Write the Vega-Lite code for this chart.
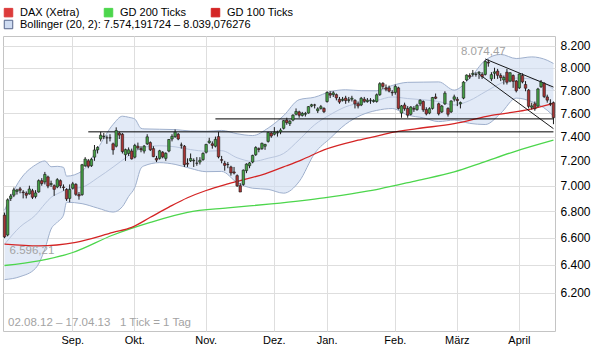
{
  "$schema": "https://vega.github.io/schema/vega-lite/v6.json",
  "width": 552,
  "height": 295,
  "autosize": {"type": "none"},
  "padding": {"left": 3, "top": 36, "right": 38, "bottom": 21},
  "background": "white",
  "config": {
    "view": {"stroke": "#c4c4c4", "strokeWidth": 1},
    "font": "Liberation Sans",
    "axis": {"labelFont": "Liberation Sans", "labelColor": "#111111", "domain": false, "ticks": false, "gridColor": "#dedede", "gridWidth": 1, "title": null},
    "legend": {"labelLimit": 400, "labelFont": "Liberation Sans", "labelColor": "#000000", "labelFontSize": 11, "padding": 0, "title": null}
  },
  "datasets": {
    "candles": [
      {"d":"2012-08-02","o":6770,"h":6790,"l":6596,"c":6606},
      {"d":"2012-08-03","o":6620,"h":6900,"l":6610,"c":6889},
      {"d":"2012-08-06","o":6900,"h":6935,"l":6880,"c":6919},
      {"d":"2012-08-07","o":6925,"h":6985,"l":6910,"c":6967},
      {"d":"2012-08-08","o":6955,"h":6975,"l":6930,"c":6966},
      {"d":"2012-08-09","o":6975,"h":6990,"l":6940,"c":6964},
      {"d":"2012-08-10","o":6950,"h":6965,"l":6900,"c":6945},
      {"d":"2012-08-13","o":6940,"h":6955,"l":6900,"c":6925},
      {"d":"2012-08-14","o":6935,"h":7000,"l":6930,"c":6974},
      {"d":"2012-08-15","o":6960,"h":6975,"l":6895,"c":6909},
      {"d":"2012-08-16","o":6915,"h":6965,"l":6900,"c":6943},
      {"d":"2012-08-17","o":6950,"h":7050,"l":6945,"c":7040},
      {"d":"2012-08-20","o":7040,"h":7060,"l":7000,"c":7017},
      {"d":"2012-08-21","o":7030,"h":7110,"l":7010,"c":7090},
      {"d":"2012-08-22","o":7070,"h":7080,"l":6980,"c":6997},
      {"d":"2012-08-23","o":7010,"h":7040,"l":6990,"c":7017},
      {"d":"2012-08-24","o":7000,"h":7010,"l":6920,"c":6971},
      {"d":"2012-08-27","o":6990,"h":7060,"l":6980,"c":7048},
      {"d":"2012-08-28","o":7040,"h":7050,"l":6980,"c":7000},
      {"d":"2012-08-29","o":6990,"h":7010,"l":6960,"c":6985},
      {"d":"2012-08-30","o":6970,"h":6980,"l":6880,"c":6896},
      {"d":"2012-08-31","o":6900,"h":7010,"l":6870,"c":6970},
      {"d":"2012-09-03","o":6980,"h":7030,"l":6970,"c":7015},
      {"d":"2012-09-04","o":7010,"h":7020,"l":6920,"c":6932},
      {"d":"2012-09-05","o":6930,"h":6950,"l":6890,"c":6919},
      {"d":"2012-09-06","o":6930,"h":7175,"l":6920,"c":7168},
      {"d":"2012-09-07","o":7160,"h":7230,"l":7150,"c":7214},
      {"d":"2012-09-10","o":7200,"h":7215,"l":7140,"c":7156},
      {"d":"2012-09-11","o":7160,"h":7225,"l":7150,"c":7212},
      {"d":"2012-09-12","o":7230,"h":7330,"l":7200,"c":7289},
      {"d":"2012-09-13","o":7290,"h":7320,"l":7260,"c":7310},
      {"d":"2012-09-14","o":7380,"h":7440,"l":7360,"c":7412},
      {"d":"2012-09-17","o":7400,"h":7430,"l":7380,"c":7404},
      {"d":"2012-09-18","o":7390,"h":7410,"l":7340,"c":7390},
      {"d":"2012-09-19","o":7390,"h":7420,"l":7360,"c":7389},
      {"d":"2012-09-20","o":7340,"h":7350,"l":7250,"c":7290},
      {"d":"2012-09-21","o":7320,"h":7478,"l":7310,"c":7451},
      {"d":"2012-09-24","o":7430,"h":7440,"l":7380,"c":7413},
      {"d":"2012-09-25","o":7420,"h":7430,"l":7260,"c":7276},
      {"d":"2012-09-26","o":7250,"h":7300,"l":7200,"c":7292},
      {"d":"2012-09-27","o":7260,"h":7310,"l":7240,"c":7290},
      {"d":"2012-09-28","o":7280,"h":7300,"l":7210,"c":7216},
      {"d":"2012-10-01","o":7230,"h":7340,"l":7220,"c":7326},
      {"d":"2012-10-02","o":7320,"h":7350,"l":7290,"c":7306},
      {"d":"2012-10-03","o":7300,"h":7320,"l":7270,"c":7291},
      {"d":"2012-10-04","o":7280,"h":7330,"l":7260,"c":7321},
      {"d":"2012-10-05","o":7340,"h":7420,"l":7330,"c":7398},
      {"d":"2012-10-08","o":7350,"h":7360,"l":7280,"c":7291},
      {"d":"2012-10-09","o":7300,"h":7320,"l":7230,"c":7234},
      {"d":"2012-10-10","o":7220,"h":7240,"l":7190,"c":7206},
      {"d":"2012-10-11","o":7220,"h":7290,"l":7210,"c":7282},
      {"d":"2012-10-12","o":7270,"h":7280,"l":7220,"c":7232},
      {"d":"2012-10-15","o":7220,"h":7270,"l":7200,"c":7261},
      {"d":"2012-10-16","o":7280,"h":7380,"l":7270,"c":7376},
      {"d":"2012-10-17","o":7380,"h":7420,"l":7360,"c":7402},
      {"d":"2012-10-18","o":7400,"h":7460,"l":7390,"c":7437},
      {"d":"2012-10-19","o":7420,"h":7430,"l":7370,"c":7380},
      {"d":"2012-10-22","o":7330,"h":7350,"l":7300,"c":7329},
      {"d":"2012-10-23","o":7320,"h":7330,"l":7150,"c":7168},
      {"d":"2012-10-24","o":7180,"h":7220,"l":7150,"c":7173},
      {"d":"2012-10-25","o":7200,"h":7260,"l":7190,"c":7219},
      {"d":"2012-10-26","o":7200,"h":7220,"l":7150,"c":7203},
      {"d":"2012-10-29","o":7180,"h":7230,"l":7160,"c":7181},
      {"d":"2012-10-30","o":7190,"h":7230,"l":7170,"c":7204},
      {"d":"2012-10-31","o":7210,"h":7270,"l":7200,"c":7260},
      {"d":"2012-11-01","o":7270,"h":7340,"l":7260,"c":7335},
      {"d":"2012-11-02","o":7350,"h":7390,"l":7340,"c":7363},
      {"d":"2012-11-05","o":7340,"h":7360,"l":7300,"c":7327},
      {"d":"2012-11-06","o":7320,"h":7400,"l":7310,"c":7377},
      {"d":"2012-11-07","o":7400,"h":7440,"l":7220,"c":7232},
      {"d":"2012-11-08","o":7210,"h":7240,"l":7180,"c":7204},
      {"d":"2012-11-09","o":7180,"h":7200,"l":7120,"c":7163},
      {"d":"2012-11-12","o":7170,"h":7190,"l":7140,"c":7169},
      {"d":"2012-11-13","o":7150,"h":7160,"l":7080,"c":7102},
      {"d":"2012-11-14","o":7110,"h":7150,"l":7090,"c":7101},
      {"d":"2012-11-15","o":7080,"h":7090,"l":6990,"c":6999},
      {"d":"2012-11-16","o":7000,"h":7020,"l":6950,"c":6950},
      {"d":"2012-11-19","o":7010,"h":7130,"l":7000,"c":7124},
      {"d":"2012-11-20","o":7120,"h":7180,"l":7100,"c":7173},
      {"d":"2012-11-21","o":7160,"h":7190,"l":7140,"c":7183},
      {"d":"2012-11-22","o":7190,"h":7250,"l":7180,"c":7244},
      {"d":"2012-11-23","o":7250,"h":7320,"l":7240,"c":7309},
      {"d":"2012-11-26","o":7300,"h":7310,"l":7270,"c":7293},
      {"d":"2012-11-27","o":7300,"h":7350,"l":7290,"c":7344},
      {"d":"2012-11-28","o":7320,"h":7340,"l":7290,"c":7335},
      {"d":"2012-11-29","o":7360,"h":7440,"l":7350,"c":7435},
      {"d":"2012-11-30","o":7430,"h":7440,"l":7390,"c":7405},
      {"d":"2012-12-03","o":7420,"h":7480,"l":7410,"c":7436},
      {"d":"2012-12-04","o":7430,"h":7450,"l":7400,"c":7435},
      {"d":"2012-12-05","o":7440,"h":7470,"l":7420,"c":7455},
      {"d":"2012-12-06","o":7470,"h":7540,"l":7460,"c":7535},
      {"d":"2012-12-07","o":7540,"h":7560,"l":7500,"c":7518},
      {"d":"2012-12-10","o":7510,"h":7540,"l":7490,"c":7530},
      {"d":"2012-12-11","o":7540,"h":7590,"l":7530,"c":7582},
      {"d":"2012-12-12","o":7590,"h":7640,"l":7580,"c":7614},
      {"d":"2012-12-13","o":7610,"h":7620,"l":7560,"c":7581},
      {"d":"2012-12-14","o":7580,"h":7610,"l":7570,"c":7597},
      {"d":"2012-12-17","o":7590,"h":7610,"l":7570,"c":7596},
      {"d":"2012-12-18","o":7600,"h":7660,"l":7595,"c":7656},
      {"d":"2012-12-19","o":7660,"h":7680,"l":7650,"c":7672},
      {"d":"2012-12-20","o":7670,"h":7680,"l":7640,"c":7669},
      {"d":"2012-12-21","o":7620,"h":7650,"l":7600,"c":7636},
      {"d":"2012-12-27","o":7640,"h":7670,"l":7630,"c":7655},
      {"d":"2012-12-28","o":7640,"h":7650,"l":7600,"c":7612},
      {"d":"2013-01-02","o":7700,"h":7790,"l":7690,"c":7779},
      {"d":"2013-01-03","o":7770,"h":7790,"l":7730,"c":7756},
      {"d":"2013-01-04","o":7760,"h":7790,"l":7740,"c":7776},
      {"d":"2013-01-07","o":7760,"h":7770,"l":7710,"c":7732},
      {"d":"2013-01-08","o":7720,"h":7740,"l":7680,"c":7695},
      {"d":"2013-01-09","o":7710,"h":7740,"l":7700,"c":7720},
      {"d":"2013-01-10","o":7730,"h":7750,"l":7680,"c":7708},
      {"d":"2013-01-11","o":7710,"h":7740,"l":7690,"c":7715},
      {"d":"2013-01-14","o":7720,"h":7750,"l":7700,"c":7729},
      {"d":"2013-01-15","o":7710,"h":7720,"l":7640,"c":7679},
      {"d":"2013-01-16","o":7680,"h":7700,"l":7640,"c":7661},
      {"d":"2013-01-17","o":7670,"h":7740,"l":7660,"c":7728},
      {"d":"2013-01-18","o":7720,"h":7740,"l":7690,"c":7702},
      {"d":"2013-01-21","o":7700,"h":7730,"l":7690,"c":7712},
      {"d":"2013-01-22","o":7710,"h":7730,"l":7680,"c":7711},
      {"d":"2013-01-23","o":7700,"h":7720,"l":7690,"c":7709},
      {"d":"2013-01-24","o":7700,"h":7770,"l":7690,"c":7759},
      {"d":"2013-01-25","o":7760,"h":7870,"l":7750,"c":7857},
      {"d":"2013-01-28","o":7860,"h":7870,"l":7810,"c":7833},
      {"d":"2013-01-29","o":7820,"h":7850,"l":7790,"c":7808},
      {"d":"2013-01-30","o":7820,"h":7840,"l":7780,"c":7791},
      {"d":"2013-01-31","o":7780,"h":7800,"l":7750,"c":7776},
      {"d":"2013-02-01","o":7780,"h":7850,"l":7760,"c":7833},
      {"d":"2013-02-04","o":7820,"h":7830,"l":7630,"c":7640},
      {"d":"2013-02-05","o":7600,"h":7670,"l":7560,"c":7662},
      {"d":"2013-02-06","o":7670,"h":7690,"l":7620,"c":7638},
      {"d":"2013-02-07","o":7640,"h":7660,"l":7560,"c":7582},
      {"d":"2013-02-08","o":7590,"h":7660,"l":7580,"c":7652},
      {"d":"2013-02-11","o":7640,"h":7660,"l":7610,"c":7633},
      {"d":"2013-02-12","o":7630,"h":7680,"l":7620,"c":7667},
      {"d":"2013-02-13","o":7680,"h":7720,"l":7660,"c":7711},
      {"d":"2013-02-14","o":7700,"h":7710,"l":7610,"c":7628},
      {"d":"2013-02-15","o":7630,"h":7650,"l":7580,"c":7593},
      {"d":"2013-02-18","o":7600,"h":7650,"l":7590,"c":7638},
      {"d":"2013-02-19","o":7640,"h":7740,"l":7630,"c":7735},
      {"d":"2013-02-20","o":7740,"h":7770,"l":7720,"c":7728},
      {"d":"2013-02-21","o":7680,"h":7690,"l":7580,"c":7594},
      {"d":"2013-02-22","o":7610,"h":7670,"l":7600,"c":7661},
      {"d":"2013-02-25","o":7680,"h":7790,"l":7670,"c":7773},
      {"d":"2013-02-26","o":7640,"h":7650,"l":7570,"c":7590},
      {"d":"2013-02-27","o":7610,"h":7710,"l":7600,"c":7705},
      {"d":"2013-02-28","o":7720,"h":7760,"l":7700,"c":7741},
      {"d":"2013-03-01","o":7720,"h":7740,"l":7660,"c":7708},
      {"d":"2013-03-04","o":7680,"h":7700,"l":7640,"c":7691},
      {"d":"2013-03-05","o":7730,"h":7880,"l":7720,"c":7871},
      {"d":"2013-03-06","o":7890,"h":7940,"l":7880,"c":7934},
      {"d":"2013-03-07","o":7930,"h":7950,"l":7900,"c":7918},
      {"d":"2013-03-08","o":7940,"h":7980,"l":7920,"c":7950},
      {"d":"2013-03-11","o":7940,"h":7960,"l":7920,"c":7942},
      {"d":"2013-03-12","o":7950,"h":7970,"l":7900,"c":7959},
      {"d":"2013-03-13","o":7940,"h":7960,"l":7900,"c":7920},
      {"d":"2013-03-14","o":7940,"h":8070,"l":7930,"c":8058},
      {"d":"2013-03-15","o":8050,"h":8074.47,"l":8010,"c":8043},
      {"d":"2013-03-18","o":7900,"h":7960,"l":7880,"c":7938},
      {"d":"2013-03-19","o":7950,"h":8000,"l":7900,"c":7963},
      {"d":"2013-03-20","o":7970,"h":7990,"l":7900,"c":7932},
      {"d":"2013-03-21","o":7930,"h":7950,"l":7880,"c":7911},
      {"d":"2013-03-22","o":7890,"h":7930,"l":7850,"c":7913},
      {"d":"2013-03-25","o":7960,"h":7990,"l":7850,"c":7870},
      {"d":"2013-03-26","o":7880,"h":7960,"l":7870,"c":7955},
      {"d":"2013-03-27","o":7930,"h":7940,"l":7820,"c":7878},
      {"d":"2013-03-28","o":7880,"h":7890,"l":7780,"c":7795},
      {"d":"2013-04-02","o":7820,"h":7950,"l":7810,"c":7943},
      {"d":"2013-04-03","o":7930,"h":7950,"l":7860,"c":7873},
      {"d":"2013-04-04","o":7850,"h":7880,"l":7790,"c":7817},
      {"d":"2013-04-05","o":7800,"h":7810,"l":7640,"c":7658},
      {"d":"2013-04-08","o":7650,"h":7690,"l":7630,"c":7662},
      {"d":"2013-04-09","o":7680,"h":7700,"l":7620,"c":7637},
      {"d":"2013-04-10","o":7660,"h":7820,"l":7650,"c":7810},
      {"d":"2013-04-11","o":7830,"h":7890,"l":7820,"c":7871},
      {"d":"2013-04-12","o":7860,"h":7870,"l":7730,"c":7744},
      {"d":"2013-04-15","o":7740,"h":7760,"l":7690,"c":7712},
      {"d":"2013-04-16","o":7680,"h":7720,"l":7660,"c":7682},
      {"d":"2013-04-17","o":7690,"h":7700,"l":7505,"c":7560}
    ],
    "boll": [
      {"d":"2012-08-02","bl":6294,"bm":6551,"bu":6808},
      {"d":"2012-08-09","bl":6315,"bm":6681,"bu":7047},
      {"d":"2012-08-16","bl":6375,"bm":6771,"bu":7167},
      {"d":"2012-08-21","bl":6515,"bm":6857,"bu":7199},
      {"d":"2012-08-23","bl":6664,"bm":6908,"bu":7152},
      {"d":"2012-08-27","bl":6716,"bm":6936,"bu":7155},
      {"d":"2012-08-29","bl":6770,"bm":6959,"bu":7147},
      {"d":"2012-08-30","bl":6870,"bm":6973,"bu":7076},
      {"d":"2012-09-06","bl":6859,"bm":6988,"bu":7117},
      {"d":"2012-09-13","bl":6825,"bm":7062,"bu":7300},
      {"d":"2012-09-20","bl":6794,"bm":7149,"bu":7503},
      {"d":"2012-09-25","bl":6836,"bm":7205,"bu":7573},
      {"d":"2012-09-27","bl":6915,"bm":7240,"bu":7564},
      {"d":"2012-10-01","bl":6986,"bm":7267,"bu":7549},
      {"d":"2012-10-03","bl":7140,"bm":7305,"bu":7470},
      {"d":"2012-10-04","bl":7159,"bm":7312,"bu":7465},
      {"d":"2012-10-11","bl":7185,"bm":7324,"bu":7462},
      {"d":"2012-10-18","bl":7171,"bm":7315,"bu":7459},
      {"d":"2012-10-25","bl":7138,"bm":7292,"bu":7447},
      {"d":"2012-11-01","bl":7112,"bm":7279,"bu":7445},
      {"d":"2012-11-08","bl":7114,"bm":7283,"bu":7452},
      {"d":"2012-11-15","bl":7025,"bm":7225,"bu":7424},
      {"d":"2012-11-22","bl":6980,"bm":7195,"bu":7409},
      {"d":"2012-11-29","bl":6971,"bm":7221,"bu":7472},
      {"d":"2012-12-06","bl":6941,"bm":7260,"bu":7578},
      {"d":"2012-12-13","bl":7033,"bm":7374,"bu":7716},
      {"d":"2012-12-20","bl":7261,"bm":7500,"bu":7738},
      {"d":"2013-01-03","bl":7386,"bm":7586,"bu":7786},
      {"d":"2013-01-10","bl":7505,"bm":7654,"bu":7803},
      {"d":"2013-01-17","bl":7582,"bm":7689,"bu":7795},
      {"d":"2013-01-24","bl":7623,"bm":7709,"bu":7794},
      {"d":"2013-01-31","bl":7639,"bm":7740,"bu":7841},
      {"d":"2013-02-07","bl":7583,"bm":7726,"bu":7869},
      {"d":"2013-02-14","bl":7559,"bm":7715,"bu":7871},
      {"d":"2013-02-21","bl":7527,"bm":7700,"bu":7873},
      {"d":"2013-02-28","bl":7540,"bm":7670,"bu":7800},
      {"d":"2013-03-07","bl":7512,"bm":7709,"bu":7905},
      {"d":"2013-03-14","bl":7502,"bm":7785,"bu":8068},
      {"d":"2013-03-21","bl":7598,"bm":7860,"bu":8122},
      {"d":"2013-03-28","bl":7730,"bm":7907,"bu":8084},
      {"d":"2013-04-08","bl":7699,"bm":7899,"bu":8099},
      {"d":"2013-04-15","bl":7624,"bm":7846,"bu":8068},
      {"d":"2013-04-17","bl":7574,"bm":7807,"bu":8039}
    ],
    "ma": [
      {"d":"2012-08-02","s":"GD 200 Ticks","v":6395},
      {"d":"2012-08-17","s":"GD 200 Ticks","v":6429},
      {"d":"2012-09-03","s":"GD 200 Ticks","v":6490},
      {"d":"2012-09-20","s":"GD 200 Ticks","v":6620},
      {"d":"2012-10-08","s":"GD 200 Ticks","v":6715},
      {"d":"2012-10-24","s":"GD 200 Ticks","v":6792},
      {"d":"2012-11-12","s":"GD 200 Ticks","v":6826},
      {"d":"2012-11-30","s":"GD 200 Ticks","v":6857},
      {"d":"2012-12-14","s":"GD 200 Ticks","v":6883},
      {"d":"2012-12-28","s":"GD 200 Ticks","v":6904},
      {"d":"2013-01-17","s":"GD 200 Ticks","v":6949},
      {"d":"2013-01-25","s":"GD 200 Ticks","v":6975},
      {"d":"2013-02-12","s":"GD 200 Ticks","v":7041},
      {"d":"2013-02-28","s":"GD 200 Ticks","v":7110},
      {"d":"2013-03-13","s":"GD 200 Ticks","v":7185},
      {"d":"2013-03-27","s":"GD 200 Ticks","v":7272},
      {"d":"2013-04-17","s":"GD 200 Ticks","v":7370},
      {"d":"2012-08-02","s":"GD 100 Ticks","v":6552},
      {"d":"2012-08-17","s":"GD 100 Ticks","v":6539},
      {"d":"2012-09-04","s":"GD 100 Ticks","v":6565},
      {"d":"2012-09-20","s":"GD 100 Ticks","v":6639},
      {"d":"2012-09-28","s":"GD 100 Ticks","v":6677},
      {"d":"2012-10-08","s":"GD 100 Ticks","v":6754},
      {"d":"2012-10-16","s":"GD 100 Ticks","v":6832},
      {"d":"2012-10-24","s":"GD 100 Ticks","v":6905},
      {"d":"2012-11-01","s":"GD 100 Ticks","v":6962},
      {"d":"2012-11-12","s":"GD 100 Ticks","v":7014},
      {"d":"2012-11-16","s":"GD 100 Ticks","v":7041},
      {"d":"2012-11-28","s":"GD 100 Ticks","v":7095},
      {"d":"2012-12-07","s":"GD 100 Ticks","v":7160},
      {"d":"2012-12-14","s":"GD 100 Ticks","v":7210},
      {"d":"2012-12-28","s":"GD 100 Ticks","v":7290},
      {"d":"2013-01-16","s":"GD 100 Ticks","v":7370},
      {"d":"2013-01-25","s":"GD 100 Ticks","v":7410},
      {"d":"2013-01-31","s":"GD 100 Ticks","v":7435},
      {"d":"2013-02-12","s":"GD 100 Ticks","v":7467},
      {"d":"2013-02-28","s":"GD 100 Ticks","v":7509},
      {"d":"2013-03-18","s":"GD 100 Ticks","v":7580},
      {"d":"2013-04-04","s":"GD 100 Ticks","v":7625},
      {"d":"2013-04-17","s":"GD 100 Ticks","v":7685}
    ],
    "trend": [
      {"t":"oben","d":"2013-03-14","v":8080},
      {"t":"oben","d":"2013-04-17","v":7827},
      {"t":"unten","d":"2013-03-12","v":7943},
      {"t":"unten","d":"2013-04-17","v":7467}
    ],
    "levels": [
      {"d1":"2012-09-10","d2":"2013-04-17","v":7440},
      {"d1":"2012-11-06","d2":"2013-04-17","v":7550}
    ],
    "notes": [
      {"d":"2013-03-15","v":8074.47,"t":"8.074,47"},
      {"d":"2012-08-02","v":6596.21,"t":"6.596,21"}
    ]
  },
  "layer": [
    {
      "data": {"name": "boll"},
      "mark": {"type": "area", "fillOpacity": 0.6, "interpolate": "monotone"},
      "encoding": {
        "x": {
          "field": "d", "type": "ordinal",
          "scale": {"paddingInner": 0, "paddingOuter": 0},
          "axis": {
            "values": ["2012-09-03","2012-10-01","2012-11-01","2012-12-03","2013-01-02","2013-02-01","2013-03-01","2013-04-02"],
            "labelExpr": "['Jan.','Feb.','März','April','Mai','Juni','Juli','Aug.','Sep.','Okt.','Nov.','Dez.'][parseInt(substring(datum.value,5,7),10)-1]",
            "labelAngle": 0, "grid": true, "bandPosition": 0.5, "labelPadding": 3, "labelFontSize": 11, "labelColor": "#000000"
          }
        },
        "y": {
          "field": "bl", "type": "quantitative",
          "scale": {"type": "log", "domain": [5938, 8293], "nice": false, "zero": false},
          "axis": {
            "orient": "right",
            "values": [6200,6400,6600,6800,7000,7200,7400,7600,7800,8000,8200],
            "labelExpr": "replace(format(datum.value, ','), ',', '.')",
            "labelPadding": 5, "grid": true, "labelFontSize": 12, "labelColor": "#000000"
          }
        },
        "y2": {"field": "bu"},
        "fill": {
          "datum": "Bollinger (20, 2): 7.574,191724 – 8.039,076276", "type": "nominal",
          "scale": {"range": ["#cfdcf2"]},
          "legend": {
            "orient": "none", "legendX": 0, "legendY": -17,
            "symbolType": "square", "symbolSize": 72, "labelOffset": 6,
            "encode": {"symbols": {"update": {"fill": {"value": "#b3bfe0"}, "stroke": {"value": "#56648a"}, "strokeWidth": {"value": 1}, "fillOpacity": {"value": 1}, "opacity": {"value": 1}}}}
          }
        }
      }
    },
    {
      "data": {"name": "boll"},
      "transform": [{"fold": ["bu", "bl"], "as": ["k", "bv"]}],
      "mark": {"type": "line", "stroke": "#9fb0cd", "strokeWidth": 1, "interpolate": "monotone"},
      "encoding": {
        "x": {"field": "d", "type": "ordinal"},
        "y": {"field": "bv", "type": "quantitative"},
        "detail": {"field": "k"}
      }
    },
    {
      "data": {"name": "boll"},
      "mark": {"type": "line", "stroke": "#b9c6de", "strokeWidth": 1, "interpolate": "monotone"},
      "encoding": {
        "x": {"field": "d", "type": "ordinal"},
        "y": {"field": "bm", "type": "quantitative"}
      }
    },
    {
      "data": {"name": "ma"},
      "mark": {"type": "line", "strokeWidth": 1.3, "interpolate": "monotone"},
      "encoding": {
        "x": {"field": "d", "type": "ordinal"},
        "y": {"field": "v", "type": "quantitative"},
        "color": {
          "field": "s", "type": "nominal",
          "scale": {"domain": ["DAX (Xetra)", "GD 200 Ticks", "GD 100 Ticks"], "range": ["#dc3b3b", "#4cd64c", "#d42424"]},
          "legend": {
            "orient": "none", "legendX": 0, "legendY": -29, "direction": "horizontal",
            "symbolType": "square", "symbolSize": 72, "columnPadding": 22, "labelOffset": 6,
            "encode": {"symbols": {"update": {"fill": {"scale": "color", "field": "value"}, "stroke": {"value": "#4a4a4a"}, "strokeWidth": {"value": 1}, "fillOpacity": {"value": 1}, "opacity": {"value": 1}}}}
          }
        }
      }
    },
    {
      "data": {"name": "levels"},
      "mark": {"type": "rule", "stroke": "#000000", "strokeWidth": 1},
      "encoding": {
        "x": {"field": "d1", "type": "ordinal"},
        "x2": {"field": "d2"},
        "y": {"field": "v", "type": "quantitative"}
      }
    },
    {
      "data": {"name": "trend"},
      "mark": {"type": "line", "stroke": "#000000", "strokeWidth": 0.9},
      "encoding": {
        "x": {"field": "d", "type": "ordinal"},
        "y": {"field": "v", "type": "quantitative"},
        "detail": {"field": "t"}
      }
    },
    {
      "data": {"name": "candles"},
      "mark": {"type": "rule", "stroke": "#1a1a1a", "strokeWidth": 1},
      "encoding": {
        "x": {"field": "d", "type": "ordinal"},
        "y": {"field": "l", "type": "quantitative"},
        "y2": {"field": "h"}
      }
    },
    {
      "data": {"name": "candles"},
      "mark": {"type": "bar", "stroke": "#1a1a1a", "strokeWidth": 0.6, "width": {"band": 0.8}},
      "encoding": {
        "x": {"field": "d", "type": "ordinal"},
        "y": {"field": "o", "type": "quantitative"},
        "y2": {"field": "c"},
        "color": {"condition": {"test": "datum.c >= datum.o", "value": "#45a045"}, "value": "#a83434"}
      }
    },
    {
      "data": {"name": "notes"},
      "transform": [{"filter": "datum.t == '8.074,47'"}],
      "mark": {"type": "text", "align": "center", "baseline": "middle", "dx": -5, "dy": -8, "fontSize": 11.5, "color": "#a3a3a3"},
      "encoding": {
        "x": {"field": "d", "type": "ordinal"},
        "y": {"field": "v", "type": "quantitative"},
        "text": {"field": "t"}
      }
    },
    {
      "data": {"name": "notes"},
      "transform": [{"filter": "datum.t == '6.596,21'"}],
      "mark": {"type": "text", "align": "left", "baseline": "middle", "dx": 5, "dy": 13, "fontSize": 11.5, "color": "#a3a3a3"},
      "encoding": {
        "x": {"field": "d", "type": "ordinal"},
        "y": {"field": "v", "type": "quantitative"},
        "text": {"field": "t"}
      }
    },
    {
      "data": {"values": [{}]},
      "mark": {"type": "text", "align": "left", "baseline": "middle", "dx": 3.5, "fontSize": 11.5, "color": "#a3a3a3"},
      "encoding": {
        "x": {"datum": "2012-08-02", "type": "ordinal"},
        "y": {"datum": 5992, "type": "quantitative"},
        "text": {"value": "02.08.12 – 17.04.13\u00a0\u00a0\u00a01 Tick = 1 Tag"}
      }
    }
  ]
}
